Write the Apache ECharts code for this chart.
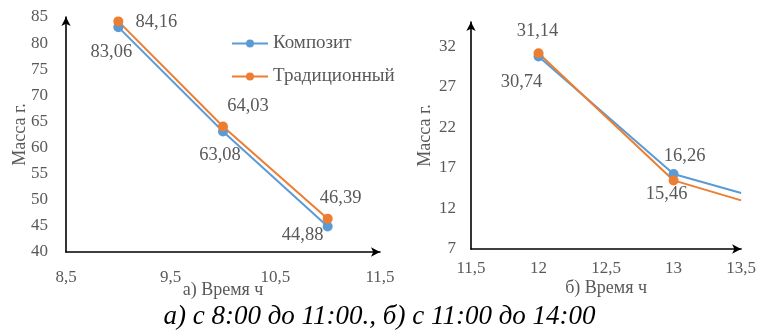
<!DOCTYPE html>
<html><head><meta charset="utf-8">
<script src="https://cdn.jsdelivr.net/npm/echarts@6/dist/echarts.min.js"></script>
<style>html,body{margin:0;padding:0;background:#fff}#c{width:759px;height:332px}</style>
</head><body><div id="c"></div>
<script>
const seriesNames = ['Композит', 'Традиционный'];
// chart а) 8:00 - 11:00
const hoursA = [9, 10, 11];
const kompA = [83.06, 63.08, 44.88];
const tradA = [84.16, 64.03, 46.39];
// chart б) 11:00 - 14:00 (last point: line continues to the axis end, no marker)
const hoursB = [12, 13, 13.5];
const kompB = [30.74, 16.26, 13.9];
const tradB = [31.14, 15.46, 13.0];
const labeledB = [true, true, false];
const xTicksA = [8.5, 11.5, 1];
const yTicksA = [40, 85, 5];
const xTicksB = [11.5, 13.5, 0.5];
const yTicksB = [7, 35, 5];
const xNameA = 'а) Время ч', xNameB = 'б) Время ч', yName = 'Масса г.';
const caption = 'а) с 8:00 до 11:00., б) с 11:00 до 14:00';

// label offsets (layout only)
const offKompA = [[-7, 25], [-3, 24], [-25, 9]];
const offTradA = [[38, 1], [25, -20], [13, -20]];
const offKompB = [[-17, 26], [11, -18], [0, 0]];
const offTradB = [[-1, -22], [-7, 14], [0, 0]];

const FONT = 'Liberation Serif';
const TXT = '#595959';
const BLUE = '#5B9BD5', ORANGE = '#ED7D31';
const fmt = v => String(v).replace('.', ',');

function mkData(xs, ys, offs, labeled) {
  return xs.map((x, i) => {
    const on = labeled ? labeled[i] : true;
    return {
      value: [x, ys[i]],
      symbol: on ? 'circle' : 'none',
      label: {show: on, position: 'inside', offset: offs[i],
        formatter: p => fmt(p.value[1]), color: TXT, fontFamily: FONT, fontSize: 18.5}
    };
  });
}
function mkSeries(name, color, xi, data) {
  return {name, type: 'line', xAxisIndex: xi, yAxisIndex: xi, data,
    symbol: 'circle', symbolSize: 10, color, lineStyle: {width: 2, color}, itemStyle: {color},
    emphasis: {disabled: true}, animation: false, z: 3};
}
const axisLine = {show: true, lineStyle: {color: '#000', width: 1.6}, symbol: ['none', 'arrow'], symbolSize: [7, 9]};
const lbl = (m) => ({color: TXT, fontFamily: FONT, fontSize: 17, margin: m, formatter: v => fmt(v)});
const nameStyle = {color: TXT, fontFamily: FONT, fontSize: 18};
function xAx(gi, t, name, gap, m) {
  return {type: 'value', gridIndex: gi, min: t[0], max: t[1], interval: t[2],
    axisLine, axisTick: {show: false}, splitLine: {show: false}, axisLabel: lbl(m),
    name, nameLocation: 'middle', nameGap: gap, nameMoveOverlap: false, nameTextStyle: nameStyle};
}
function yAx(gi, t, m, showMax) {
  const a = lbl(m); a.showMaxLabel = showMax;
  return {type: 'value', gridIndex: gi, min: t[0], max: t[1], interval: t[2],
    axisLine, axisTick: {show: false}, splitLine: {show: false}, axisLabel: a,
    name: yName, nameLocation: 'middle', nameGap: 37, nameMoveOverlap: false, nameTextStyle: nameStyle};
}
const chart = echarts.init(document.getElementById('c'));
chart.setOption({
  backgroundColor: '#fff',
  animation: false,
  grid: [
    {left: 66, right: 379, top: 17, bottom: 80},
    {left: 471, right: 17, top: 22, bottom: 83}
  ],
  xAxis: [xAx(0, xTicksA, xNameA, 29, 17), xAx(1, xTicksB, xNameB, 30, 11)],
  yAxis: [yAx(0, yTicksA, 18, true), yAx(1, yTicksB, 15, false)],
  legend: {orient: 'vertical', left: 226, top: 29, itemGap: 14, itemWidth: 36, itemHeight: 10,
    data: seriesNames, textStyle: {color: TXT, fontFamily: FONT, fontSize: 19}},
  series: [
    mkSeries(seriesNames[0], BLUE, 0, mkData(hoursA, kompA, offKompA)),
    mkSeries(seriesNames[1], ORANGE, 0, mkData(hoursA, tradA, offTradA)),
    mkSeries(seriesNames[0], BLUE, 1, mkData(hoursB, kompB, offKompB, labeledB)),
    mkSeries(seriesNames[1], ORANGE, 1, mkData(hoursB, tradB, offTradB, labeledB))
  ],
  graphic: [{type: 'text', left: 'center', top: 303,
    style: {text: caption, fill: '#000', font: 'italic 27px "Liberation Serif"'}}]
});
</script></body></html>
